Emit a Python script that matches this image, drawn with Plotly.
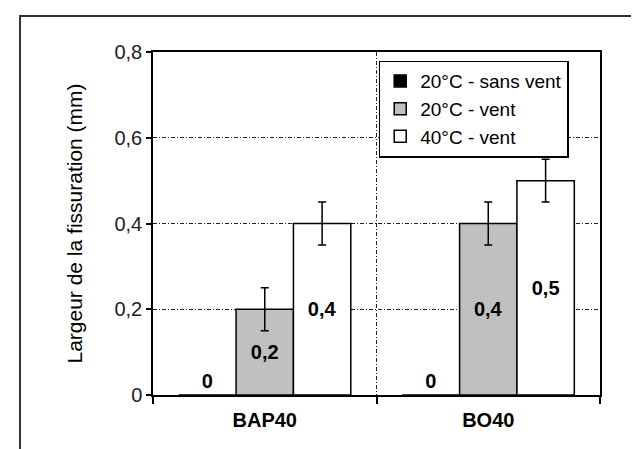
import plotly.graph_objects as go

# donnees
categories = ["BAP40", "BO40"]
series_names = ["20°C - sans vent", "20°C - vent", "40°C - vent"]
sans_vent_20 = [0.0, 0.0]
vent_20 = [0.2, 0.4]
vent_40 = [0.4, 0.5]
err_vent_20 = [0.05, 0.05]
err_vent_40 = [0.05, 0.05]

FONT = "Liberation Sans, Arial, sans-serif"


def label(v):
    # etiquette a la francaise : 0,2
    return ("%g" % v).replace(".", ",")


fig = go.Figure()

series = [
    (series_names[0], sans_vent_20, None, "black"),
    (series_names[1], vent_20, err_vent_20, "#c0c0c0"),
    (series_names[2], vent_40, err_vent_40, "white"),
]

for i, (name, vals, err, col) in enumerate(series):
    fig.add_trace(go.Bar(
        name=name,
        x=categories,
        y=vals,
        marker=dict(color=col, line=dict(color="black", width=1.5)),
        error_y=(dict(type="data", array=err, visible=True, color="black",
                      thickness=1.5, width=4) if err else dict(visible=False)),
        text=[label(v) for v in vals],
        textposition=["outside" if v == 0 else "inside" for v in vals],
        insidetextanchor="middle",
        constraintext="none",
        textangle=0,
        textfont=dict(family=FONT, size=20, color="black", weight="bold"),
        cliponaxis=False,
    ))

grid_dash = "4px,2px,1px,2px"

fig.update_layout(
    width=639, height=449,
    margin=dict(l=145, r=47, t=44, b=62),
    paper_bgcolor="white",
    plot_bgcolor="white",
    separators=", ",
    barmode="group",
    bargap=0.23,
    bargroupgap=0,
    font=dict(family=FONT, size=20, color="black"),
    legend=dict(
        x=0.93, y=0.975, xanchor="right", yanchor="top",
        bgcolor="white", bordercolor="black", borderwidth=1.5,
        font=dict(family=FONT, size=19, color="black"),
        traceorder="normal",
    ),
    showlegend=True,
)

fig.update_xaxes(
    showline=True, linecolor="black", linewidth=1.5, mirror=True,
    ticks="outside", ticklen=7, tickcolor="black", tickwidth=1.5,
    tickson="boundaries",
    showgrid=True, gridcolor="#222", gridwidth=1, griddash=grid_dash,
    tickfont=dict(family=FONT, size=20, color="black", weight="bold"),
    ticklabelstandoff=6,
)

fig.update_yaxes(
    range=[0, 0.8], dtick=0.2,
    showline=True, linecolor="black", linewidth=1.5, mirror=True,
    ticks="outside", ticklen=5, tickcolor="black", tickwidth=1.5,
    showgrid=True, gridcolor="#222", gridwidth=1, griddash=grid_dash,
    zeroline=False,
    tickfont=dict(family=FONT, size=20, color="#222"),
    title=dict(text="Largeur de la fissuration (mm)",
               font=dict(family=FONT, size=21, color="black"), standoff=26),
)

# cadre exterieur de la figure
fig.add_shape(type="rect", xref="paper", yref="paper",
              x0=-0.2975, x1=1.11, y0=-0.25, y1=1.105,
              line=dict(color="#333", width=2), layer="below")

fig.write_html("out.html")
